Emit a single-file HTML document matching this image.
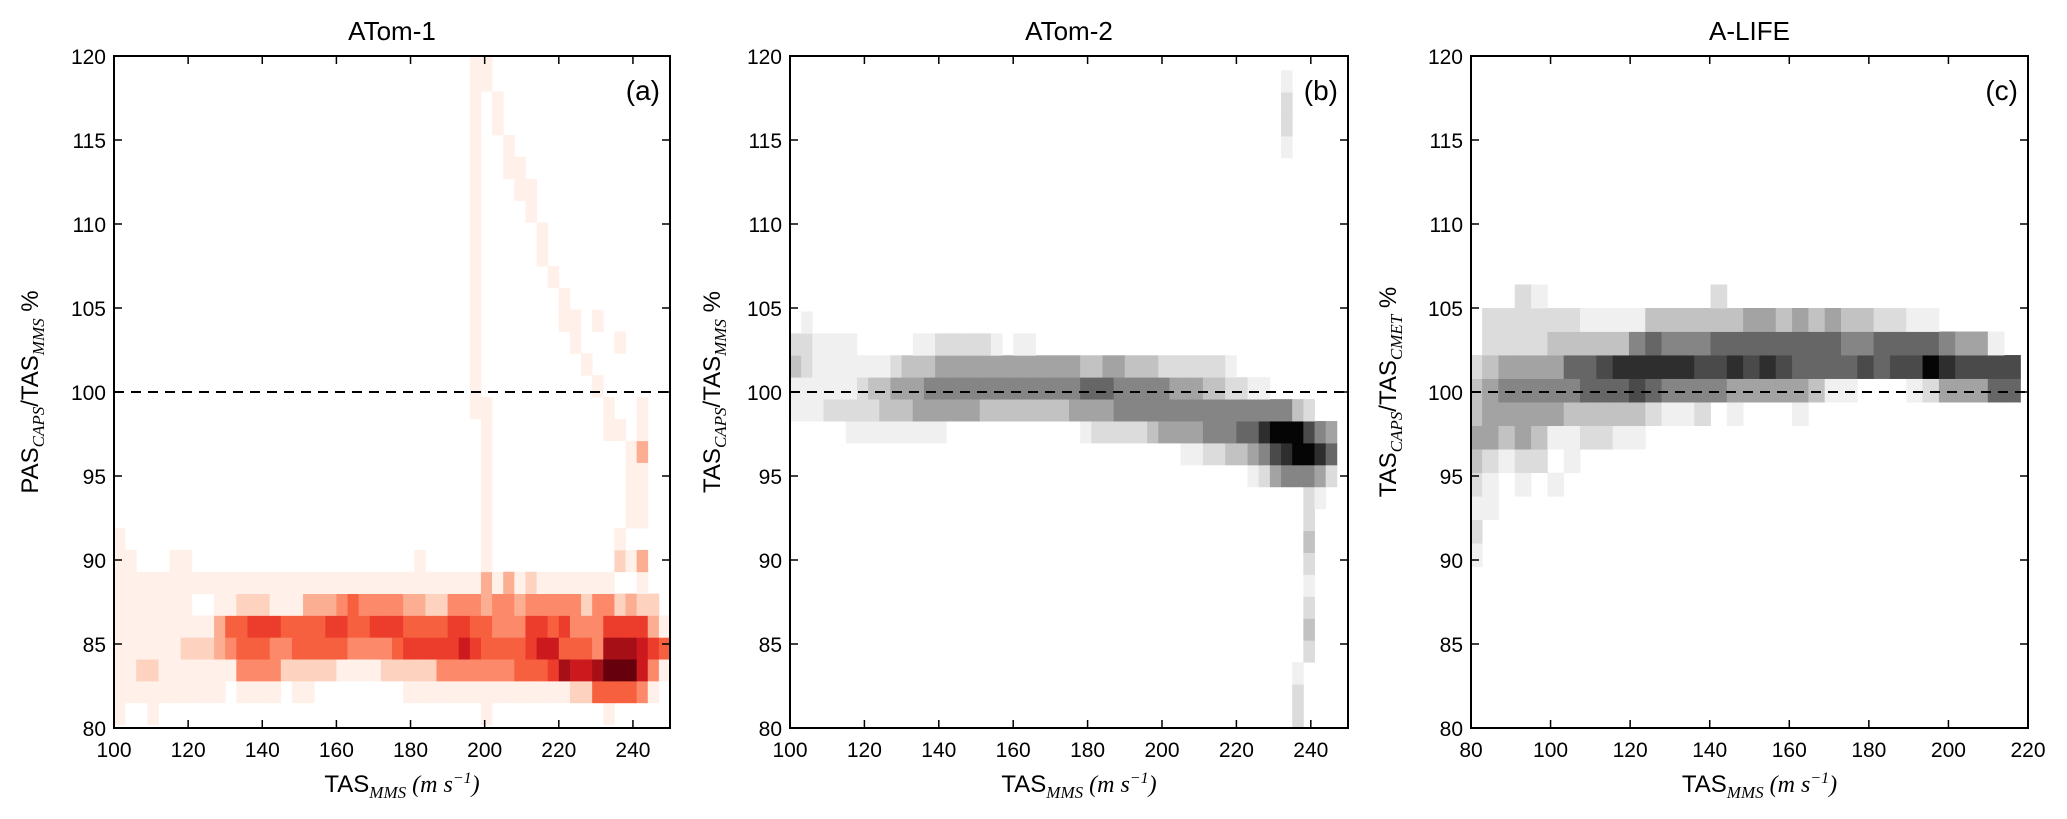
<!DOCTYPE html>
<html><head><meta charset="utf-8"><title>TAS comparison heatmaps</title>
<style>
html,body{margin:0;padding:0;background:#fff;}
svg{display:block;font-family:"Liberation Sans",sans-serif;}
.tick{font-size:21px;fill:#000;}
.title{font-size:26px;}
.lab{font-size:24px;}
.sub{font-family:"Liberation Serif",serif;font-style:italic;font-size:17px;}
.it{font-family:"Liberation Serif",serif;font-style:italic;}
</style></head>
<body>
<svg id="fig" width="2067" height="819" viewBox="0 0 2067 819" xmlns="http://www.w3.org/2000/svg"></svg>
<script>
// ---- data: heatmap cells, rows bottom-first, "startCol-endCol:level" ----
const gridA = [
"0:1 3:1 33:1 44:1",
"0-9:1 11-14:1 16-17:1 26-40:1 41-42:2 43-46:5 47:4 48:1",
"0-1:1 2-3:2 4-10:1 11-14:4 15-19:2 20-23:1 24-28:2 29-35:4 36-38:5 39:6 40:8 41-42:7 43:8 44-46:9 47:7 48:4 49:1",
"0-5:1 6-8:2 9:3 10:4 11-13:5 14-15:4 16-20:5 21-24:4 25:5 26-30:6 31:7 32:6 33-36:5 37:6 38-39:7 40-42:5 43:4 44-46:8 47:7 48:6 49:5",
"0-8:1 9:3 10-11:5 12-14:6 15-18:5 19-20:6 21-22:5 23-25:6 26-29:5 30-31:6 32-33:5 34-36:4 37-38:6 39:5 40:6 41-43:4 44-47:6 48:3 49:1",
"0-6:1 9-10:1 11-13:2 14-16:1 17-19:3 20:4 21:5 22-25:4 26-27:3 28-29:2 30-32:4 33:3 34-35:4 36:3 37-41:4 42:2 43-44:4 45:2 46:3 47-48:2",
"0-44:1 33:3 35:3 37:2 47:1",
"0-1:1 5-6:1 27:1 33:1 45:2 46:1 47:3",
"0:1 33:1 45:1",
"33:1 46-47:1","33:1 46-47:1","33:1 46-47:1",
"33:1 46:1 47:3",
"33:1 44-45:1 47:1",
"32-33:1 44:1 47:1",
"32:1 43:1","32:1 42:1","32:1 41:1 45:1","32:1 40-41:1 43:1",
"32:1 40:1","32:1 39:1","32:1 38:1","32:1 38:1","32:1 37:1",
"32:1 36-37:1","32:1 35-36:1","32:1 35:1","32:1 34:1","32:1 34:1",
"32-33:1","32-33:1"
];
const gridB = [
"45:2","45:2","45:1","46:2","46:3","46:2","46:1","46:2","46:3","46:2","46:2 47:1",
"41:1 42:2 43:4 44-46:5 47:4 48:2",
"35-36:1 37-38:2 39-40:3 41:4 42:5 43:7 44:8 45-46:9 47:8 48:6",
"5-13:1 26:1 27-31:2 32:3 33-36:4 37-39:5 40-41:6 42:8 43-45:9 46:7 47:5 48:4",
"0-2:1 3-7:2 8-10:3 11-16:4 17-24:3 25-28:4 29-44:5 45:3 46:2",
"0-5:1 6:2 7-8:3 9-11:4 12-25:5 26-28:6 29-33:5 34-36:4 37-38:3 39-40:2 41-42:1",
"0:3 1:2 2-8:1 9:2 10-12:3 13-25:4 26-27:3 28-29:4 30-32:3 33-38:2 39:1",
"0-1:2 2-5:1 11-12:1 13-17:2 18:1 20-21:1",
"1:1","","","","","","","",
"44:1","44:2","44:2","44:1"
];
const gridC = [
"","","","","","","",
"0:1","0:2","0-1:1",
"0:2 1:1 3:1 5:1",
"0:3 1:2 2:1 3-4:2 6:1",
"0-1:4 2:3 3:4 4:3 5-6:1 7-8:2 9-10:1",
"0:3 1-5:4 6-10:3 11:2 12-13:1 14:2 16:1 20:1",
"0:3 1:4 2-6:5 7-9:6 10:7 11:6 12-15:5 16-20:4 21:3 22-23:1 27:1 28:2 29-31:4 32-33:6",
"0:2 1:3 2-5:4 6-7:6 8:7 9-13:8 14-15:7 16:8 17:7 18:8 19:7 20-23:6 24:7 25:6 26-27:7 28:9 29:8 30-33:7",
"1-4:2 5-9:3 10:5 11:6 12-14:5 15-22:6 23-24:5 25-28:6 29:5 30-31:4 32:1",
"1-6:2 7-10:1 11-16:3 17-18:4 19:3 20:4 21:3 22:4 23-24:3 25-26:2 27-28:1",
"3:2 4:1 15:2"
];
const xTicksAB = [100,120,140,160,180,200,220,240];
const xTicksC = [80,100,120,140,160,180,200,220];
const yTicks = [80,85,90,95,100,105,110,115,120];
const titles = ["ATom-1","ATom-2","A-LIFE"];
const tags = ["(a)","(b)","(c)"];
const reds = ["#ffffff","#fff0e9","#fdd2bf","#fcae92","#fc8a6a","#f7603f","#ec3d2c","#cc191e","#a50f15","#67000d"];
const greys = ["#ffffff","#f0f0f0","#dcdcdc","#c2c2c2","#a3a3a3","#858585","#666666","#4a4a4a","#2e2e2e","#050505"];

const panels = [
 {L:114,R:670,xmin:100,xmax:250,x0:100,dx:3,y0:80.2,dy:1.3,grid:gridA,cmap:reds,ticks:xTicksAB,ylab:["PAS","CAPS","/TAS","MMS"],ylx:30},
 {L:790,R:1348,xmin:100,xmax:250,x0:100,dx:3,y0:80,dy:1.305,grid:gridB,cmap:greys,ticks:xTicksAB,ylab:["TAS","CAPS","/TAS","MMS"],ylx:712},
 {L:1471,R:2028,xmin:80,xmax:220,x0:78.7,dx:4.1,y0:79.8,dy:1.4,grid:gridC,cmap:greys,ticks:xTicksC,ylab:["TAS","CAPS","/TAS","CMET"],ylx:1388}
];
const TOP=56, BOT=728, YMIN=80, YMAX=120;
const NS="http://www.w3.org/2000/svg";
const svg=document.getElementById('fig');
function mk(tag,attrs,parent){const e=document.createElementNS(NS,tag);for(const k in attrs)e.setAttribute(k,attrs[k]);(parent||svg).appendChild(e);return e;}
function yS(v){return BOT-(v-YMIN)/(YMAX-YMIN)*(BOT-TOP);}

panels.forEach((p,i)=>{
  const xS=v=>p.L+(v-p.xmin)/(p.xmax-p.xmin)*(p.R-p.L);
  const g=mk('g',{});
  
  
  mk('clipPath',{id:'clip'+i},g);
  mk('rect',{x:p.L,y:TOP,width:p.R-p.L,height:BOT-TOP},g.lastChild);
  const cells=mk('g',{'clip-path':'url(#clip'+i+')'},g);
  
  
  p.grid.forEach((row,k)=>{
    const lv={};
    row.trim().split(/\s+/).filter(s=>s).forEach(seg=>{
      const [r,l]=seg.split(':');const [a,b]=r.split('-').map(Number);
      for(let c=a;c<=(isNaN(b)?a:b);c++)lv[c]=+l;
    });
    Object.keys(lv).forEach(c=>{
      if(!lv[c])return;
      const xa=xS(p.x0+c*p.dx), xb=xS(p.x0+(+c+1)*p.dx);
      const ya=yS(p.y0+(k+1)*p.dy), yb=yS(p.y0+k*p.dy);
      const r=mk('rect',{x:xa.toFixed(2),y:ya.toFixed(2),width:(xb-xa+0.4).toFixed(2),height:(yb-ya+0.4).toFixed(2),fill:p.cmap[lv[c]]},cells);
      
      
    });
  });
  // dashed reference line
  const dl=mk('line',{x1:p.L,x2:p.R,y1:yS(100),y2:yS(100),stroke:'#000','stroke-width':2,'stroke-dasharray':'10,7'},g);
  
  
  // frame
  const fr=mk('rect',{x:p.L,y:TOP,width:p.R-p.L,height:BOT-TOP,fill:'none',stroke:'#000','stroke-width':2},g);
  
  
  // x ticks
  p.ticks.forEach(t=>{
    const x=xS(t);
    mk('line',{x1:x,x2:x,y1:BOT,y2:BOT-8,stroke:'#000','stroke-width':1.5},g);
    mk('line',{x1:x,x2:x,y1:TOP,y2:TOP+8,stroke:'#000','stroke-width':1.5},g);
    const tl=mk('text',{x:x,y:757,'text-anchor':'middle',class:'tick'},g);
    tl.textContent=t;
    
    
  });
  yTicks.forEach(t=>{
    const y=yS(t);
    mk('line',{x1:p.L,x2:p.L+8,y1:y,y2:y,stroke:'#000','stroke-width':1.5},g);
    mk('line',{x1:p.R,x2:p.R-8,y1:y,y2:y,stroke:'#000','stroke-width':1.5},g);
    const tl=mk('text',{x:p.L-8,y:y+8,'text-anchor':'end',class:'tick'},g);
    tl.textContent=t;
    
    
  });
  const cx=(p.L+p.R)/2;
  const ti=mk('text',{x:cx,y:40,'text-anchor':'middle',class:'title'},g);
  ti.textContent=titles[i];
  
  
  const tg=mk('text',{x:p.R-10,y:100,'text-anchor':'end',style:'font-size:28px'},g);
  tg.textContent=tags[i];
  
  
  // x label
  const xl=mk('text',{x:cx+10,y:792,'text-anchor':'middle',class:'lab'},g);
  
  
  xl.innerHTML='TAS<tspan class="sub" dy="6">MMS</tspan><tspan dy="-6" class="it"> (m s</tspan><tspan class="it" style="font-size:16px" dy="-9">−1</tspan><tspan class="it" dy="9">)</tspan>';
  // y label
  const yl=mk('text',{x:0,y:0,'text-anchor':'middle',class:'lab',transform:'translate('+(p.ylx+8)+','+((TOP+BOT)/2)+') rotate(-90)'},g);
  
  
  yl.innerHTML=p.ylab[0]+'<tspan class="sub" dy="6">'+p.ylab[1]+'</tspan><tspan dy="-6">'+p.ylab[2]+'</tspan><tspan class="sub" dy="6">'+p.ylab[3]+'</tspan><tspan dy="-6"> %</tspan>';
});
</script>
</body></html>
